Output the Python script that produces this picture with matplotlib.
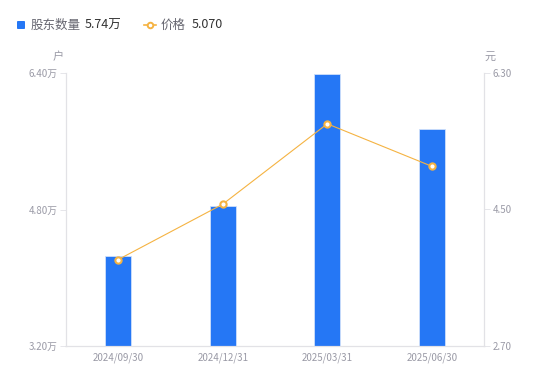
import matplotlib
matplotlib.use("Agg")
import matplotlib.pyplot as plt
from matplotlib.lines import Line2D
from matplotlib.patches import FancyBboxPatch

plt.rcParams['font.family'] = ['Noto Sans CJK SC', 'DejaVu Sans']

dates = ["2024/09/30", "2024/12/31", "2025/03/31", "2025/06/30"]
holders = [4.25, 4.84, 6.39, 5.74]   # 万户
price = [3.84, 4.57, 5.63, 5.07]     # 元
left_ticks = [3.20, 4.80, 6.40]
right_ticks = [2.70, 4.50, 6.30]

bar_color = "#2577F5"
line_color = "#F5B342"
grey = "#9a9aa6"
spine_c = "#e2e2e6"

fig = plt.figure(figsize=(5.5, 3.81), dpi=100)
ax = fig.add_axes([66/550, 35/381, 418/550, 273/381])
ax2 = ax.twinx()

x = range(len(dates))
ax.bar(x, [h - left_ticks[0] for h in holders], bottom=left_ticks[0], width=0.245,
       color=bar_color, edgecolor="#cfe0fb", linewidth=0.6, zorder=2)
ax.set_xlim(-0.5, len(dates) - 0.5)
ax.set_ylim(left_ticks[0], left_ticks[-1])
ax.set_yticks(left_ticks)
ax.set_yticklabels([f"{t:.2f}万" for t in left_ticks])
ax.set_xticks(list(x))
ax.set_xticklabels(dates)

ax2.plot(list(x), price, color=line_color, linewidth=0.8, marker="o", markersize=4.5,
         markerfacecolor="white", markeredgecolor=line_color, markeredgewidth=1.5, zorder=3)
ax2.set_ylim(right_ticks[0], right_ticks[-1])
ax2.set_yticks(right_ticks)
ax2.set_yticklabels([f"{t:.2f}" for t in right_ticks])

for a in (ax, ax2):
    a.spines["top"].set_visible(False)
    for s in ("left", "right", "bottom"):
        a.spines[s].set_color(spine_c)
        a.spines[s].set_linewidth(0.8)
    a.tick_params(axis="y", colors=grey, labelsize=7, length=4, width=0.6, pad=2)
    a.tick_params(axis="y", color=spine_c)
ax.tick_params(axis="x", colors=grey, labelsize=7, length=0, pad=5)
ax2.tick_params(axis="x", length=0)
for lbl in ax.get_xticklabels() + ax.get_yticklabels() + ax2.get_yticklabels():
    lbl.set_color(grey)

fig.text(58/550, 1 - 57/381, "户", color=grey, fontsize=8, ha="center", va="center")
fig.text(490/550, 1 - 57/381, "元", color=grey, fontsize=8, ha="center", va="center")

# legend
fig.patches.append(FancyBboxPatch((17/550, 1 - 29/381), 8/550, 8/381, boxstyle="round,pad=0,rounding_size=0.002",
                                  transform=fig.transFigure, facecolor=bar_color, edgecolor="none"))
fig.text(31/550, 1 - 25/381, "股东数量", color="#666670", fontsize=9, va="center")
fig.text(85/550, 1 - 25/381, "5.74万", color="#333333", fontsize=9, va="center")
fig.lines.append(Line2D([144/550, 156/550], [1 - 25/381, 1 - 25/381], transform=fig.transFigure,
                        color=line_color, linewidth=1.2))
fig.lines.append(Line2D([150/550], [1 - 25/381], transform=fig.transFigure, marker="o", markersize=4,
                        markerfacecolor="white", markeredgecolor=line_color, markeredgewidth=1.4, linestyle="none"))
fig.text(161/550, 1 - 25/381, "价格", color="#666670", fontsize=9, va="center")
fig.text(192/550, 1 - 25/381, "5.070", color="#333333", fontsize=9, va="center")

fig.savefig("out.png", dpi=100)
